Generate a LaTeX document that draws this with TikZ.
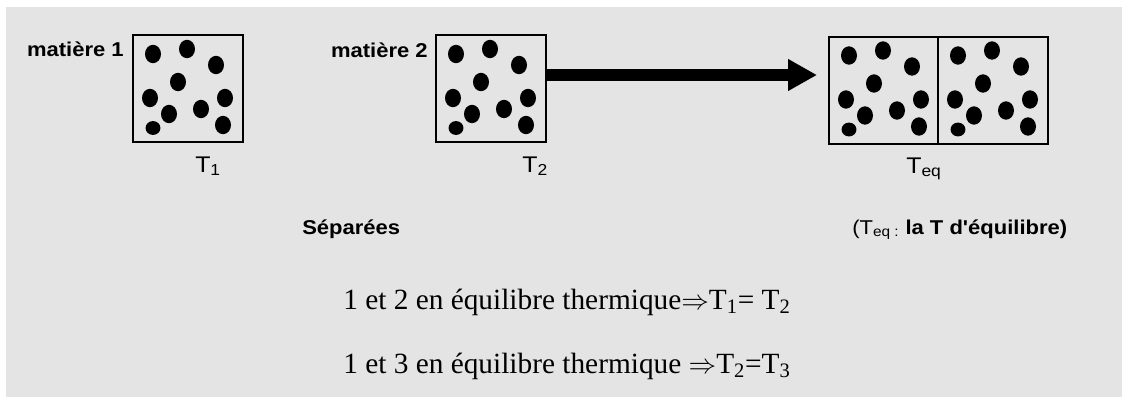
\documentclass[tikz,border=0pt]{standalone}
\usepackage{fontspec}
\setmainfont{Liberation Serif}
\newfontfamily\lblfont[FakeStretch=1.1]{Liberation Sans}
\usetikzlibrary{arrows.meta}
\definecolor{panelgray}{RGB}{228,228,228}
\tikzset{
  vessel/.style={draw, line width=1.5pt, minimum width=82.5pt, minimum height=80.25pt, inner sep=0pt},
  tag/.style={font=\lblfont\bfseries\fontsize{15}{18}\selectfont, inner sep=0pt},
  temp/.style={font=\lblfont\fontsize{17}{20}\selectfont, inner sep=0pt, anchor=base west},
  eqline/.style={font=\fontsize{22}{26}\selectfont, inner sep=0pt, anchor=base west},
}
\begin{document}
\begin{tikzpicture}[x=0.75pt,y=-0.75pt]
  \useasboundingbox (0,0) rectangle (1122,397);
  \fill[panelgray] (6,7) rectangle (1122,397);
  % separate vessels
  \node[vessel] (box1) at (188,88.5) {};
  \node[vessel] (box2) at (491,88.5) {};
  % vessels put together
  \node[vessel, minimum width=81.75pt] (box3a) at (883.5,90) {};
  \node[vessel] (box3b) at (993,90) {};
  % particles, same pattern in every vessel
  \foreach \b in {box1,box2,box3a,box3b}{
    \foreach \dx/\dy in {21/20,55/15,84/31,46/48,18/64,93/64,37/80,69/75,91/91}
      \fill (\b.north west) ++(\dx,\dy) ellipse (6pt and 6.9pt);
    \fill (\b.north west) ++(21,94) ellipse (5.6pt and 5.2pt);
  }
  % contact arrow
  \coordinate (tip) at (817,75);
  \draw[line width=9pt, -{Triangle[length=21.75pt,width=22.5pt]}] (box2.east |- tip) -- (tip);
  % labels
  \node[tag, anchor=base east] (m1) at (124,56) {matière 1};
  \node[tag, anchor=base east] (m2) at (428,57) {matière 2};
  \node[temp] (t1) at (195,172) {T\textsubscript{1}};
  \node[temp] (t2) at (522,172) {T\textsubscript{2}};
  \node[temp] (teq) at (906,173) {T\textsubscript{eq}};
  \node[tag, anchor=base west] (sep) at (302,234) {Séparées};
  \node[tag, anchor=base west] (note) at (852,234) {\mdseries(T\textsubscript{eq :} \bfseries la T d'équilibre)};
  % equilibrium statements
  \node[eqline] (l1) at (343,309) {1 et 2 en équilibre thermique$\Rightarrow$T\textsubscript{1}= T\textsubscript{2}};
  \node[eqline] (l2) at (343,373) {1 et 3 en équilibre thermique $\Rightarrow$T\textsubscript{2}=T\textsubscript{3}};
\end{tikzpicture}
\end{document}
